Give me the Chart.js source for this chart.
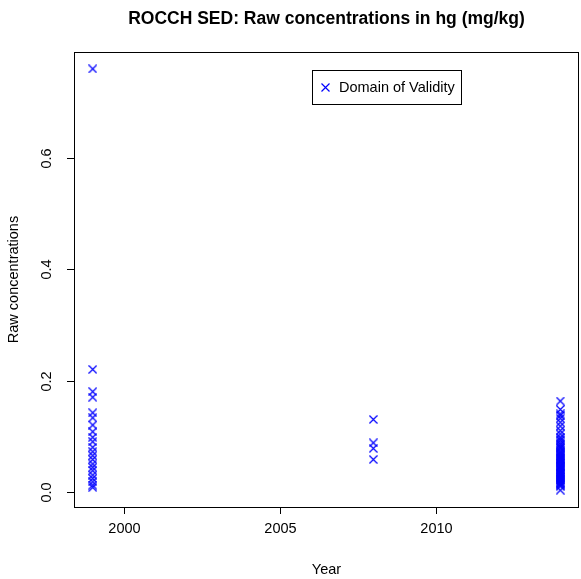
<!DOCTYPE html>
<html>
<head>
<meta charset="utf-8">
<script src="https://cdn.jsdelivr.net/npm/chart.js@4/dist/chart.umd.min.js"></script>
<style>
  html, body { margin: 0; padding: 0; background: #fff; overflow: hidden; }
  canvas { display: block; }
</style>
</head>
<body>
<canvas id="ctx" width="581" height="579"></canvas>
<script>
// sampling years and the measured hg values for each of them
const years = [1999, 2008, 2014];
const hg1999 = [0.760, 0.220, 0.180, 0.170, 0.142, 0.133, 0.120, 0.108, 0.098, 0.090, 0.080,
                0.072, 0.065, 0.058, 0.050, 0.044, 0.038, 0.030, 0.024, 0.018, 0.012, 0.008];
const hg2008 = [0.130, 0.088, 0.078, 0.058];
const hg2014 = [0.163, 0.148, 0.140, 0.137, 0.132, 0.125, 0.118, 0.110, 0.104, 0.098, 0.095,
                0.092, 0.088, 0.085, 0.082, 0.080, 0.078, 0.075, 0.072, 0.070, 0.068, 0.066,
                0.064, 0.062, 0.060, 0.058, 0.056, 0.054, 0.052, 0.050, 0.048, 0.046, 0.045,
                0.043, 0.041, 0.040, 0.038, 0.036, 0.035, 0.033, 0.031, 0.030, 0.028, 0.026,
                0.025, 0.023, 0.022, 0.020, 0.018, 0.017, 0.015, 0.013, 0.012, 0.010, 0.003];
const xTicks = [2000, 2005, 2010];
const yTicks = [0.0, 0.2, 0.4, 0.6];

const values = [hg1999, hg2008, hg2014];
let pts = [];
years.forEach((y, i) => {
    values[i].forEach(v => pts.push({x: y, y: v}));
});

// R style: data range padded by 4% on each side
const allY = pts.map(p => p.y);
const yLo = Math.min(...allY), yHi = Math.max(...allY);
const xLo = Math.min(...years), xHi = Math.max(...years);
const yPad = (yHi - yLo) * 0.04, xPad = (xHi - xLo) * 0.04;

const FONT = '"Liberation Sans", Arial, Helvetica, sans-serif';
const BLUE = '#0000ff';

// pch 4 style cross as a small sprite
function makeCross(size) {
    const cv = document.createElement('canvas');
    cv.width = size; cv.height = size;
    const g = cv.getContext('2d');
    g.strokeStyle = BLUE;
    g.lineWidth = 1.15;
    g.beginPath();
    g.moveTo(0.5, 0.5); g.lineTo(size - 0.5, size - 0.5);
    g.moveTo(size - 0.5, 0.5); g.lineTo(0.5, size - 0.5);
    g.stroke();
    return cv;
}
const cross = makeCross(9);

const rAxes = {
    id: 'rAxes',
    afterDraw(chart) {
        const c = chart.ctx, a = chart.chartArea;
        const sx = chart.scales.x, sy = chart.scales.y;
        c.save();
        c.strokeStyle = '#000';
        c.lineWidth = 1;
        c.strokeRect(a.left + 0.5, a.top + 0.5, a.right - a.left - 1, a.bottom - a.top);

        c.fillStyle = '#000';
        c.font = '14.5px ' + FONT;
        c.textAlign = 'center';
        c.textBaseline = 'middle';
        xTicks.forEach(t => {
            const px = Math.round(sx.getPixelForValue(t)) + 0.5;
            c.beginPath();
            c.moveTo(px, a.bottom);
            c.lineTo(px, a.bottom + 7);
            c.stroke();
            c.fillText(String(t), px, a.bottom + 22);
        });
        yTicks.forEach(t => {
            const py = Math.round(sy.getPixelForValue(t)) + 0.5;
            c.beginPath();
            c.moveTo(a.left, py);
            c.lineTo(a.left - 7, py);
            c.stroke();
            c.save();
            c.translate(a.left - 27, py);
            c.rotate(-Math.PI / 2);
            c.fillText(t.toFixed(1), 0, 0);
            c.restore();
        });

        const cx = (a.left + a.right) / 2;
        c.fillText('Year', cx, 570);
        c.save();
        c.translate(14, (a.top + a.bottom) / 2);
        c.rotate(-Math.PI / 2);
        c.fillText('Raw concentrations', 0, 0);
        c.restore();

        c.font = 'bold 17.5px ' + FONT;
        c.fillText('ROCCH SED: Raw concentrations in hg (mg/kg)', cx, 19);

        // legend box
        c.strokeRect(312.5, 70.5, 149, 34);
        c.drawImage(cross, 321, 83);
        c.textAlign = 'left';
        c.font = '14.5px ' + FONT;
        c.fillText(chart.data.datasets[0].label, 339, 88);
        c.restore();
    }
};

new Chart(document.getElementById('ctx'), {
    type: 'scatter',
    data: {
        datasets: [{
            label: 'Domain of Validity',
            data: pts,
            pointStyle: cross,
            pointRadius: 4.5,
            borderColor: BLUE,
            backgroundColor: BLUE
        }]
    },
    options: {
        responsive: false,
        animation: false,
        events: [],
        layout: { autoPadding: false, padding: { left: 74, top: 52, right: 2, bottom: 72 } },
        plugins: { legend: { display: false }, tooltip: { enabled: false } },
        scales: {
            x: { type: 'linear', display: false, min: xLo - xPad, max: xHi + xPad },
            y: { type: 'linear', display: false, min: yLo - yPad, max: yHi + yPad }
        }
    },
    plugins: [rAxes]
});
</script>
</body>
</html>
